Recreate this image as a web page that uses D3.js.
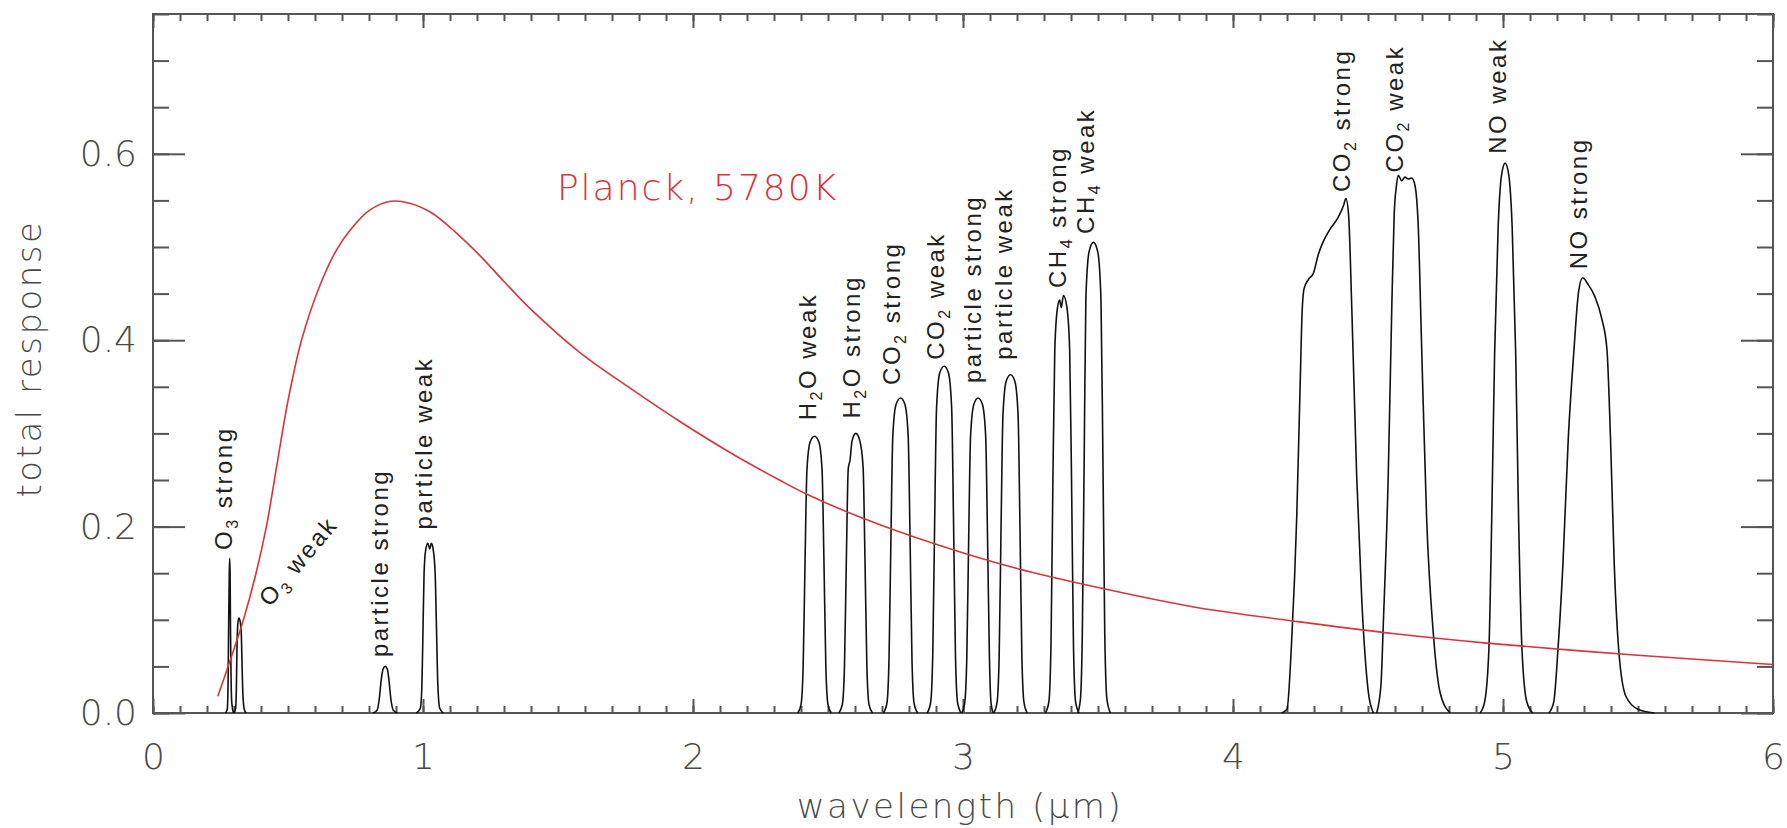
<!DOCTYPE html>
<html>
<head>
<meta charset="utf-8">
<script src="https://cdn.jsdelivr.net/npm/d3@7"></script>
<style>
  body { margin: 0; background: #fff; }
  .tick text { font-family: "DejaVu Sans", sans-serif; font-weight: 300; fill: #4a4a4a; font-size: 36px; }
  .tick line { stroke: #555; stroke-width: 2; }
</style>
</head>
<body>
<div class="canvasResponse"></div>
<script>
// tick labels
const xTicks = [0, 1, 2, 3, 4, 5, 6]
const yTicks = [0.0, 0.2, 0.4, 0.6]

// [wavelength (um), response]
const planck = [
  [0.24, 0.018], [0.29, 0.06], [0.335, 0.10], [0.38, 0.148], [0.42, 0.20], [0.46, 0.268],
  [0.50, 0.335], [0.55, 0.400], [0.62, 0.460], [0.68, 0.497], [0.73, 0.518], [0.80, 0.539],
  [0.88, 0.549], [0.95, 0.547], [1.03, 0.537], [1.12, 0.516], [1.21, 0.491], [1.30, 0.463],
  [1.40, 0.433], [1.58, 0.387], [1.77, 0.348], [1.95, 0.313], [2.14, 0.279], [2.32, 0.250],
  [2.42, 0.235], [2.62, 0.210], [2.90, 0.181], [3.20, 0.155], [3.51, 0.134], [3.85, 0.114],
  [4.24, 0.098], [4.60, 0.085], [4.94, 0.075], [5.50, 0.062], [6.00, 0.052]
]

const o3Strong = [[0.268, 0], [0.275, 0.004], [0.278, 0.03], [0.280, 0.09], [0.2825, 0.150], [0.284, 0.166],
  [0.2855, 0.150], [0.287, 0.09], [0.289, 0.04], [0.292, 0.01], [0.298, 0]]
const o3Weak = [[0.300, 0], [0.306, 0.005], [0.309, 0.03], [0.311, 0.07], [0.314, 0.095], [0.318, 0.102],
  [0.323, 0.098], [0.327, 0.085], [0.330, 0.05], [0.333, 0.02], [0.338, 0.004], [0.345, 0]]
const partStrong1 = [[0.815, 0], [0.83, 0.003], [0.838, 0.015], [0.845, 0.035], [0.852, 0.047], [0.86, 0.05],
  [0.868, 0.047], [0.874, 0.035], [0.881, 0.015], [0.89, 0.003], [0.905, 0]]
const partWeak1 = [[0.975, 0], [0.99, 0.005], [0.996, 0.03], [1.0, 0.09], [1.004, 0.15], [1.01, 0.175],
  [1.018, 0.182], [1.025, 0.176], [1.031, 0.182], [1.038, 0.175], [1.045, 0.15], [1.05, 0.09],
  [1.055, 0.03], [1.062, 0.005], [1.075, 0]]
const h2oWeak = [[2.388, 0], [2.400, 0.009], [2.408, 0.05], [2.415, 0.163], [2.422, 0.261], [2.434, 0.291],
  [2.450, 0.297], [2.466, 0.291], [2.478, 0.261], [2.485, 0.163], [2.492, 0.05], [2.500, 0.009], [2.512, 0]]
const h2oStrong = [[2.540, 0], [2.553, 0.009], [2.561, 0.05], [2.568, 0.165], [2.575, 0.262], [2.582, 0.272],
  [2.589, 0.292], [2.603, 0.300], [2.618, 0.292], [2.630, 0.264], [2.637, 0.165], [2.644, 0.05],
  [2.652, 0.009], [2.665, 0]]
const co2Strong1 = [[2.705, 0], [2.718, 0.01], [2.726, 0.058], [2.733, 0.186], [2.740, 0.297], [2.752, 0.331],
  [2.769, 0.338], [2.785, 0.331], [2.797, 0.297], [2.804, 0.186], [2.811, 0.058], [2.819, 0.01], [2.832, 0]]
const co2Weak1 = [[2.867, 0], [2.880, 0.011], [2.888, 0.063], [2.895, 0.205], [2.902, 0.327], [2.914, 0.365],
  [2.930, 0.372], [2.946, 0.365], [2.958, 0.327], [2.965, 0.205], [2.972, 0.063], [2.980, 0.011], [2.993, 0]]
const partStrong2 = [[2.996, 0], [3.006, 0.01], [3.014, 0.058], [3.021, 0.186], [3.028, 0.297], [3.040, 0.331],
  [3.056, 0.338], [3.072, 0.331], [3.084, 0.297], [3.091, 0.186], [3.098, 0.058], [3.104, 0.01], [3.112, 0]]
const partWeak2 = [[3.114, 0], [3.126, 0.011], [3.134, 0.062], [3.141, 0.2], [3.148, 0.32], [3.160, 0.356],
  [3.176, 0.363], [3.192, 0.356], [3.204, 0.32], [3.211, 0.2], [3.218, 0.062], [3.226, 0.011], [3.238, 0]]
const ch4Strong = [[3.305, 0], [3.318, 0.012], [3.326, 0.075], [3.333, 0.25], [3.340, 0.39], [3.350, 0.435],
  [3.358, 0.443], [3.364, 0.435], [3.372, 0.448], [3.385, 0.435], [3.395, 0.39], [3.402, 0.25],
  [3.409, 0.075], [3.417, 0.012], [3.430, 0]]
const ch4Weak = [[3.425, 0], [3.435, 0.015], [3.442, 0.086], [3.449, 0.278], [3.455, 0.444], [3.467, 0.495],
  [3.483, 0.505], [3.499, 0.495], [3.511, 0.444], [3.518, 0.278], [3.525, 0.086], [3.533, 0.015], [3.546, 0]]
const co2Strong2 = [[4.180, 0], [4.200, 0.004], [4.217, 0.076], [4.236, 0.21], [4.248, 0.344], [4.256, 0.43],
  [4.263, 0.455], [4.279, 0.465], [4.298, 0.472], [4.316, 0.492], [4.333, 0.505], [4.359, 0.519],
  [4.390, 0.532], [4.410, 0.545], [4.418, 0.552], [4.428, 0.535], [4.44, 0.434], [4.458, 0.255],
  [4.477, 0.121], [4.501, 0.023], [4.52, 0]]
const co2Weak2 = [[4.532, 0], [4.548, 0.03], [4.557, 0.098], [4.575, 0.255], [4.588, 0.434], [4.597, 0.535],
  [4.605, 0.565], [4.612, 0.577], [4.625, 0.571], [4.637, 0.575], [4.649, 0.573], [4.662, 0.574],
  [4.674, 0.566], [4.686, 0.523], [4.699, 0.389], [4.717, 0.21], [4.742, 0.085], [4.767, 0.022], [4.804, 0]]
const noWeak = [[4.915, 0], [4.932, 0.012], [4.948, 0.07], [4.958, 0.205], [4.969, 0.386], [4.982, 0.521],
  [4.995, 0.578], [5.008, 0.590], [5.021, 0.578], [5.034, 0.521], [5.047, 0.386], [5.058, 0.205],
  [5.070, 0.07], [5.088, 0.012], [5.11, 0]]
const noStrong = [[5.17, 0], [5.188, 0.012], [5.204, 0.07], [5.222, 0.16], [5.242, 0.296], [5.262, 0.386],
  [5.28, 0.452], [5.295, 0.467], [5.315, 0.460], [5.340, 0.447], [5.365, 0.424], [5.385, 0.390],
  [5.398, 0.296], [5.412, 0.16], [5.428, 0.07], [5.455, 0.018], [5.50, 0.004], [5.56, 0]]

const bands = [o3Strong, o3Weak, partStrong1, partWeak1, h2oWeak, h2oStrong, co2Strong1, co2Weak1,
  partStrong2, partWeak2, ch4Strong, ch4Weak, co2Strong2, co2Weak2, noWeak, noStrong]

// band names (pre, subscript, post) and where they sit, in data units
const bandNames = [
  ["O", "3", " strong"], ["O", "3", " weak"], ["particle strong"], ["particle weak"],
  ["H", "2", "O weak"], ["H", "2", "O strong"], ["CO", "2", " strong"], ["CO", "2", " weak"],
  ["particle strong"], ["particle weak"], ["CH", "4", " strong"], ["CH", "4", " weak"],
  ["CO", "2", " strong"], ["CO", "2", " weak"], ["NO weak"], ["NO strong"]
]
const nameAt = [
  [0.293, 0.175], [0.433, 0.113], [0.871, 0.060], [1.033, 0.197],
  [2.455, 0.314], [2.619, 0.316], [2.767, 0.352], [2.931, 0.379],
  [3.065, 0.354], [3.182, 0.379], [3.383, 0.456], [3.487, 0.514],
  [4.433, 0.559], [4.630, 0.580], [5.011, 0.600], [5.310, 0.476]
]
const nameAngle = [-90, -50, -90, -90, -90, -90, -90, -90, -90, -90, -90, -90, -90, -90, -90, -90]

const planckLabel = "Planck, 5780K"
const planckLabelAt = [1.496, 0.55]

const drawChart = (width, height) => {

    const margin = {top: 14, right: 14, bottom: 115, left: 153}
    const graphWidth = width - margin.left - margin.right
    const graphHeight = height - margin.top - margin.bottom
    const axisColor = "#555"
    const red = "#d8343c"

    const svg = d3.select(".canvasResponse").append("svg").attr("width", width).attr("height", height)

    const graph = svg.append("g")
        .attr("transform", `translate(${margin.left}, ${margin.top})`)

    //scales
    const x = d3.scaleLinear().domain([0, 6]).range([0, graphWidth])
    const y = d3.scaleLinear().domain([0, 0.75]).range([graphHeight, 0])

    // ticks point inward on all four sides
    const noLabel = () => ""
    graph.append("g").attr("transform", `translate(0, ${graphHeight})`)
        .call(d3.axisBottom(x).tickValues(x.ticks(60)).tickSize(-7).tickFormat(noLabel))
    graph.append("g").attr("transform", `translate(0, ${graphHeight})`)
        .call(d3.axisBottom(x).tickValues(xTicks).tickSize(-14).tickPadding(30).tickFormat(d3.format("d")))
    graph.append("g")
        .call(d3.axisTop(x).tickValues(x.ticks(60)).tickSize(-7).tickFormat(noLabel))
    graph.append("g")
        .call(d3.axisTop(x).tickValues(xTicks).tickSize(-14).tickFormat(noLabel))

    graph.append("g")
        .call(d3.axisLeft(y).tickValues(y.ticks(15)).tickSize(-16).tickFormat(noLabel))
    graph.append("g")
        .call(d3.axisLeft(y).tickValues(yTicks).tickSize(-32).tickPadding(16).tickFormat(d3.format(".1f")))
    graph.append("g").attr("transform", `translate(${graphWidth}, 0)`)
        .call(d3.axisRight(y).tickValues(y.ticks(15)).tickSize(-16).tickFormat(noLabel))
    graph.append("g").attr("transform", `translate(${graphWidth}, 0)`)
        .call(d3.axisRight(y).tickValues(yTicks).tickSize(-32).tickFormat(noLabel))

    graph.selectAll(".domain").remove()

    graph.append("rect")
        .attr("width", graphWidth).attr("height", graphHeight)
        .attr("fill", "none").attr("stroke", axisColor).attr("stroke-width", 2)

    const line = d3.line()
        .x(d => x(d[0]))
        .y(d => y(d[1]))
        .curve(d3.curveMonotoneX)

    const smooth = d3.line()
        .x(d => x(d[0]))
        .y(d => y(d[1]))
        .curve(d3.curveCatmullRom.alpha(0.5))

    // filter responses
    graph.selectAll(".band")
        .data(bands)
        .enter().append("path")
        .attr("class", "band")
        .attr("d", line)
        .attr("fill", "none")
        .attr("stroke", "#111")
        .attr("stroke-width", 1.6)

    // planck curve
    graph.append("path")
        .datum(planck)
        .attr("d", smooth)
        .attr("fill", "none")
        .attr("stroke", red)
        .attr("stroke-width", 1.6)

    // band names
    bandNames.forEach((parts, i) => {
        const t = graph.append("text")
            .attr("transform", `translate(${x(nameAt[i][0])}, ${y(nameAt[i][1])}) rotate(${nameAngle[i]})`)
            .attr("font-family", "'Liberation Sans', Arial, sans-serif")
            .attr("font-size", 24)
            .attr("letter-spacing", 2.5)
            .attr("fill", "#222")
        t.append("tspan").text(parts[0])
        if (parts.length > 1) {
            t.append("tspan").attr("dy", 6).attr("font-size", 16).text(parts[1])
            t.append("tspan").attr("dy", -6).text(parts[2])
        }
    })

    graph.append("text")
        .attr("x", x(planckLabelAt[0]))
        .attr("y", y(planckLabelAt[1]))
        .attr("font-family", "'DejaVu Sans', sans-serif")
        .attr("font-weight", 300)
        .attr("font-size", 36)
        .attr("letter-spacing", 2)
        .attr("fill", red)
        .text(planckLabel)

    // axis titles
    svg.append("text")
        .attr("transform", `translate(41, ${margin.top + graphHeight / 2 - 5}) rotate(-90)`)
        .attr("text-anchor", "middle")
        .attr("font-family", "'DejaVu Sans', sans-serif")
        .attr("font-weight", 300)
        .attr("font-size", 34)
        .attr("letter-spacing", 2.5)
        .attr("fill", "#4a4a4a")
        .text("total response")

    svg.append("text")
        .attr("x", margin.left + graphWidth / 2 - 3)
        .attr("y", 818)
        .attr("text-anchor", "middle")
        .attr("font-family", "'DejaVu Sans', sans-serif")
        .attr("font-weight", 300)
        .attr("font-size", 34)
        .attr("letter-spacing", 2.5)
        .attr("fill", "#4a4a4a")
        .text("wavelength (\u03bcm)")
}

drawChart(1787, 828)
</script>
</body>
</html>
